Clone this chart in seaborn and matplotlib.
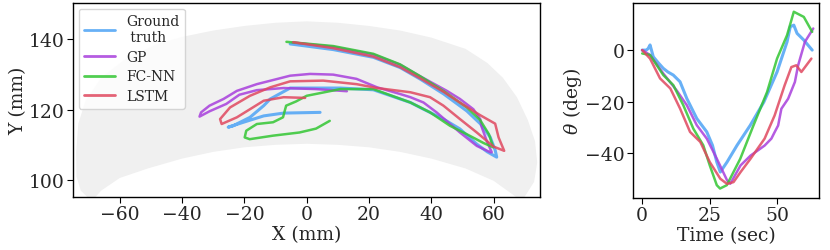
import seaborn as sns
import matplotlib.pyplot as plt
import pandas as pd

sns.set_theme(style="ticks")
plt.rcParams['font.family'] = ['DejaVu Serif']
plt.rcParams['mathtext.fontset'] = 'dejavuserif'

series = ['Ground\n truth', 'GP', 'FC-NN', 'LSTM']
colors = ['#4da3f5', '#a83fdc', '#33c633', '#e0485f']

# X-Y trajectories (mm)
gt_x = [-5.3, 8.5, 21.4, 30, 36.5, 44, 51.4, 55.7, 58.9, 60.5, 61, 58, 54.6, 49.2, 43.9, 37.5, 33.3,
        21.4, 10.8, -5.3, -11.7, -13.8, -18.2, -23.6, -25.2, -20.3, -13.8, -7.4, 4.3]
gt_y = [138.6, 137, 134.8, 131.9, 128.6, 124.4, 119.6, 116, 112.2, 108.5, 106.5, 108, 110.2, 114.5, 117.3,
        120.1, 122, 125.6, 126.1, 126.1, 123, 121.1, 117.8, 115.4, 115, 116.4, 118.2, 119, 119.2]

gp_x = [-4.5, 8.5, 21.4, 30, 36.5, 45, 49.2, 53.5, 55.7, 56.2, 57.8, 59.4, 58.9, 54.6, 49.2, 41.7, 37.5,
        33.3, 30, 22.6, 16, 8.5, 1.1, -5.3, -16, -22.4, -26.7, -31.2, -33.9, -34.4, -31.2, -25.8, -21.6,
        -16, -7.4, 3, 12.9]
gp_y = [139, 137.8, 135.6, 132.7, 129.4, 125.3, 123, 120.1, 117.3, 115, 111.1, 107.9, 107.9, 109.7, 113.5,
        119.2, 122, 123.5, 124.4, 126.3, 128.7, 129.9, 130.1, 129.6, 127.2, 125.3, 123, 121.1, 119.2, 118,
        119.5, 121.6, 124.2, 125.5, 126.1, 125.8, 125.2]

fc_x = [-6.5, 8.5, 21.4, 30, 36.5, 44, 51.4, 55.7, 58.5, 59.9, 56.8, 51.4, 46, 39.6, 33.3, 21.4, 10.8, 0,
        -3.4, -6.6, -7.6, -10.8, -16, -19.4, -19.9, -18.3, -10.8, -2.3, 3, 7.4]
fc_y = [139.2, 138, 135.8, 132.8, 129.4, 125.2, 120.6, 117, 113, 109.3, 110.5, 113, 115.4, 119.2, 122,
        125.8, 125.8, 123.9, 122.3, 121.1, 117.8, 116.4, 115.9, 114, 112.1, 111.6, 112.6, 113.5, 114.6,
        116.8]

ls_x = [-4.3, 8.5, 21.4, 30, 36.5, 44, 50, 55.7, 60.5, 61.6, 63.4, 60, 54.6, 49.2, 43.9, 39.6, 33.3,
        22.6, 16, 5.3, -5.3, -11.7, -18.2, -24.6, -27.8, -27.3, -22.4, -13.8, -7.4, -0.5]
ls_y = [139.1, 137.4, 135, 132, 128.8, 125, 121.5, 118.4, 116, 112.1, 108.3, 109.5, 113.5, 117.3, 121.1,
        123.5, 124.9, 126.1, 127.2, 128.2, 128, 126.3, 123.9, 120.6, 117.3, 115.9, 117.8, 122.5, 123.5,
        123.3]

# workspace boundary (outer arc left->right, inner arc right->left)
ws_x = [-69, -72.5, -73.9, -74, -73.3, -71, -66, -58, -48, -40, -30, -20, -10, 0, 10, 20, 30, 40, 51,
        58, 63, 67.5, 71, 73.3, 74, 73, 70.5, 69,
        66, 60, 51, 40, 30, 20, 10, 0, -10, -20, -30, -40, -51, -60, -66, -69]
ws_y = [94, 97, 101, 108, 116, 122.5, 129, 134.5, 138.6, 140.6, 142.4, 143.7, 144.6, 145, 144.6, 143.7,
        142.4, 140.4, 137.2, 133.2, 129, 123.5, 117, 111, 105, 99.5, 96, 94,
        96, 99.8, 103.3, 106.1, 108, 109.3, 110, 110.3, 110, 109.3, 108, 106.1, 103.3, 100.6, 97, 94]

# orientation over time
gt_t = [0, 1.5, 2.2, 2.9, 4.1, 6, 7.8, 9.5, 11.5, 14, 16.5, 20.2, 23.9, 26, 27.6, 28.9, 31.4, 35.1, 40,
        45, 49.9, 53.6, 54.8, 56.1, 57.3, 59.8, 62.9]
gt_th = [0, 0, 0.6, 2, -2.6, -5, -7.1, -8.5, -9.7, -12.3, -18.8, -26.6, -31.8, -37, -43.5, -47.4, -43.5,
         -37, -29.2, -20.2, -8.5, 3.2, 9.1, 9.7, 6.5, 3.9, 0]
gp_t = [0, 2.9, 7.8, 12.7, 16.5, 20.2, 23.9, 27.6, 31.4, 32.6, 36.4, 40.1, 45.3, 47.8, 49, 50.3, 51.5,
        54, 56.5, 57.7, 60.2, 63.3]
gp_th = [0, -1.9, -9.1, -15.6, -21.4, -29.2, -34.4, -42.2, -50.6, -51.9, -44.8, -41, -37.1, -34.4,
         -31.9, -29.3, -22.8, -18.9, -12.4, -5.9, 3.2, 8.4]
fc_t = [0, 2.9, 7.8, 11.5, 15.2, 18.9, 22.6, 25, 27.6, 28.8, 31.3, 36.3, 41.2, 46.2, 49.9, 53.6, 56.1,
        59.8, 62.9]
fc_th = [-1.3, -1.9, -9.7, -13.6, -21.4, -30.5, -37, -44.8, -52.5, -53.8, -52.5, -42.2, -29.2, -16.3,
         -3.3, 5.8, 14.9, 12.9, 7.1]
ls_t = [0, 2.9, 6.6, 10.4, 14, 17.7, 21.5, 25, 28.9, 31.4, 33.8, 36.4, 40.1, 45.3, 49, 52.7, 55.2, 57,
        58.9, 62.6]
ls_th = [0, -3.3, -11, -14.9, -22.7, -31.8, -35.7, -43.5, -50, -52, -51.3, -47.4, -42.2, -34.4, -25.4,
         -13.7, -6.6, -5.9, -8.5, -3.3]

xy = [(gt_x, gt_y), (gp_x, gp_y), (fc_x, fc_y), (ls_x, ls_y)]
ts = [(gt_t, gt_th), (gp_t, gp_th), (fc_t, fc_th), (ls_t, ls_th)]
widths = [2.2, 1.8, 1.8, 1.8]

fig = plt.figure(figsize=(8.3, 2.51), dpi=100)
ax1 = fig.add_axes([0.088, 0.211, 0.563, 0.773])
ax2 = fig.add_axes([0.763, 0.207, 0.224, 0.777])

ax1.fill(ws_x, ws_y, color='#f0f0f0', lw=0, zorder=0)
for (x, y), name, c, w in zip(xy, series, colors, widths):
    df = pd.DataFrame({'x': x, 'y': y})
    sns.lineplot(data=df, x='x', y='y', sort=False, estimator=None, ax=ax1,
                 color=c, lw=w, alpha=0.85, label=name)

for (t, th), c, w in zip(ts, colors, widths):
    df = pd.DataFrame({'t': t, 'th': th})
    sns.lineplot(data=df, x='t', y='th', sort=False, estimator=None, ax=ax2,
                 color=c, lw=w, alpha=0.85)

ax1.set_xlim(-75, 75)
ax1.set_ylim(95.2, 150.2)
ax1.set_xticks([-60, -40, -20, 0, 20, 40, 60])
ax1.set_yticks([100, 120, 140])
ax1.set_xlabel('X (mm)', fontsize=13.5, labelpad=1)
ax1.set_ylabel('Y (mm)', fontsize=13.5, labelpad=1)
leg = ax1.legend(loc='upper left', fontsize=10, handlelength=2.2, borderaxespad=0.4,
                 labelspacing=0.4, frameon=True)
for line in leg.get_lines():
    line.set_linewidth(2)

ax2.set_xlim(-3.3, 65.5)
ax2.set_ylim(-57.5, 18.3)
ax2.set_xticks([0, 25, 50])
ax2.set_yticks([-40, -20, 0])
ax2.set_xlabel('Time (sec)', fontsize=13.5, labelpad=1)
ax2.set_ylabel(r'$\theta$ (deg)', fontsize=13.5, labelpad=1)

for ax in (ax1, ax2):
    ax.tick_params(labelsize=13.5, length=4, width=0.8, color='black', pad=2)
    for s in ax.spines.values():
        s.set_color('black')
        s.set_linewidth(1.0)
        s.set_visible(True)

plt.savefig('out.png', dpi=100)
